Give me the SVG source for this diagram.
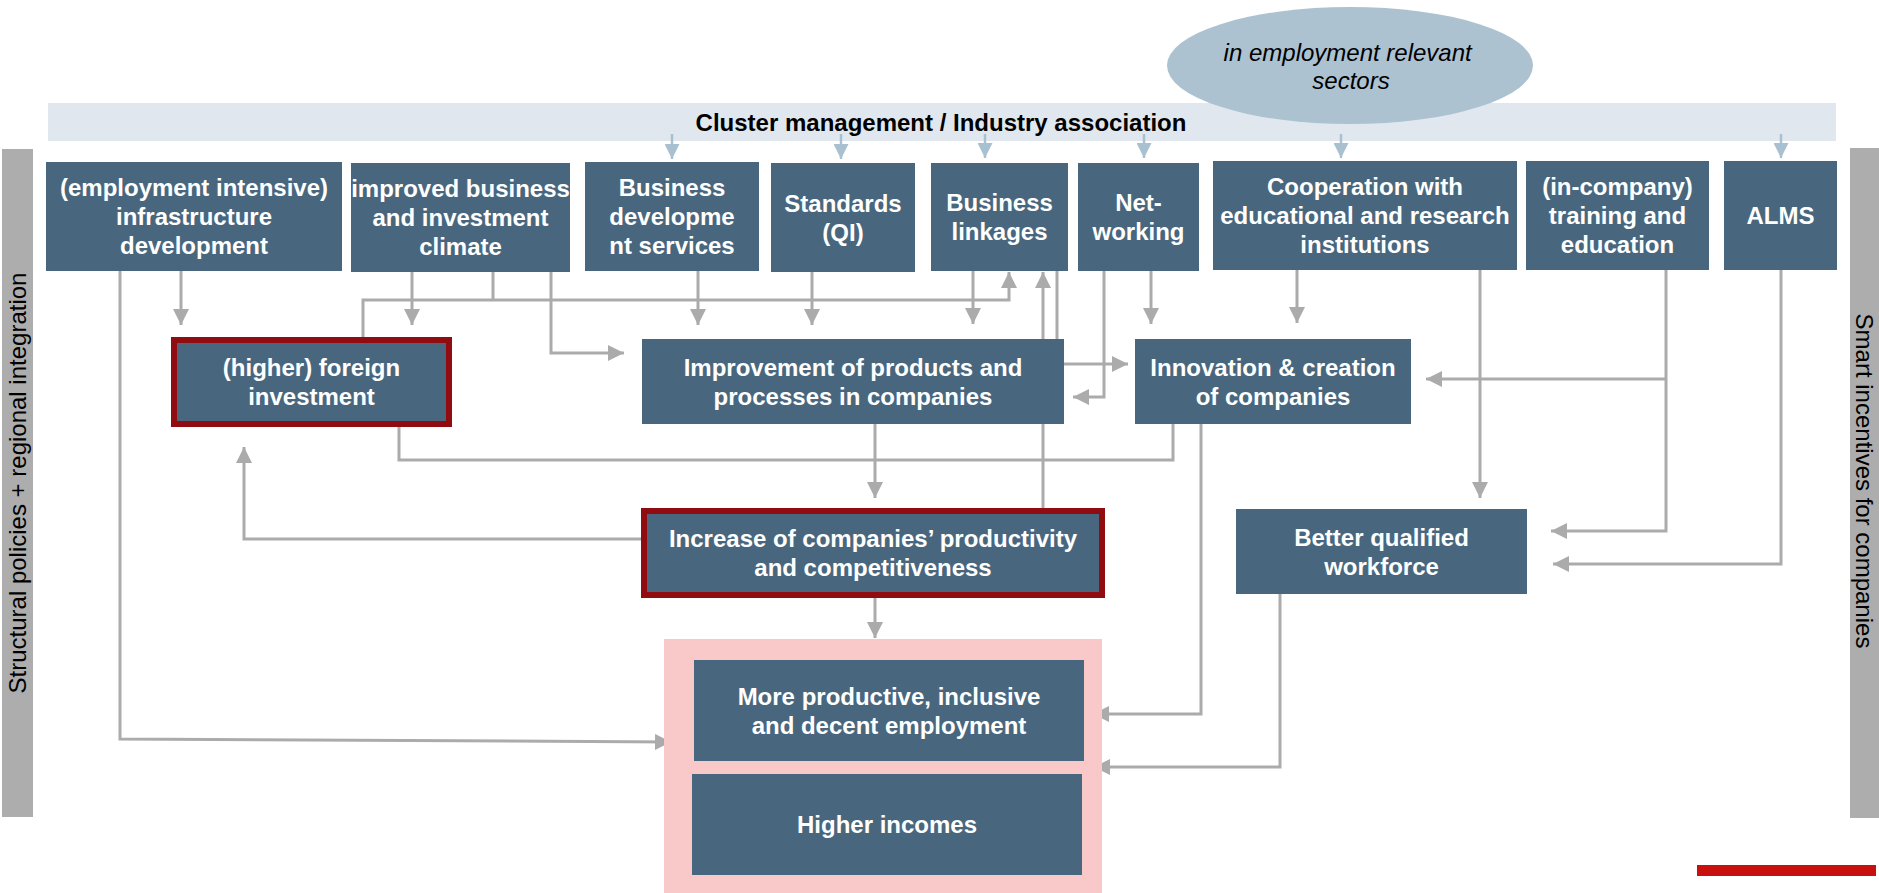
<svg xmlns="http://www.w3.org/2000/svg" width="1879" height="893" viewBox="0 0 1879 893">
  <defs>
    <style>
      .node { fill: #48677E; }
      .hl { fill: #48677E; stroke: #900C10; stroke-width: 6; }
      .lbl { font-family: "Liberation Sans", Arial, sans-serif; font-weight: bold; font-size: 24px; fill: #FFFFFF; text-anchor: middle; }
      .side { fill: #ADADAD; }
      .sidetxt { font-family: "Liberation Sans", Arial, sans-serif; font-size: 24px; fill: #000000; text-anchor: middle; }
      .con { fill: none; stroke: #ABABAB; stroke-width: 3; }
      .arr { marker-end: url(#ag); }
      .blue { fill: none; stroke: #A9C0D0; stroke-width: 2.5; marker-end: url(#ab); }
    </style>
    <marker id="ag" viewBox="0 0 16 16" refX="16" refY="8" markerWidth="16" markerHeight="16" markerUnits="userSpaceOnUse" orient="auto">
      <path d="M0,0 L16,8 L0,16 Z" fill="#ABABAB"/>
    </marker>
    <marker id="ab" viewBox="0 0 15 15" refX="15" refY="7.5" markerWidth="15" markerHeight="15" markerUnits="userSpaceOnUse" orient="auto">
      <path d="M0,0 L15,7.5 L0,15 Z" fill="#A9C0D0"/>
    </marker>
  </defs>

  <rect width="1879" height="893" fill="#FFFFFF"/>

  <!-- side bands -->
  <g id="side-left">
    <rect class="side" x="2" y="149" width="31" height="668"/>
    <text class="sidetxt" transform="translate(26,483) rotate(-90)">Structural policies + regional integration</text>
  </g>
  <g id="side-right">
    <rect class="side" x="1850" y="148" width="29" height="670"/>
    <text class="sidetxt" transform="translate(1856,481) rotate(90)">Smart incentives for companies</text>
  </g>

  <!-- cluster band and sector bubble -->
  <g id="cluster">
    <rect x="48" y="103" width="1788" height="38" fill="#E0E7EE"/>
    <text x="941" y="131" font-family="Liberation Sans, Arial, sans-serif" font-weight="bold" font-size="24" fill="#000000" text-anchor="middle">Cluster management / Industry association</text>
  </g>
  <g id="sectors">
    <ellipse cx="1350" cy="65.5" rx="183" ry="58.5" fill="#ADC2D1"/>
    <text font-family="Liberation Sans, Arial, sans-serif" font-style="italic" font-size="24" fill="#000000" text-anchor="middle">
      <tspan x="1351" y="61">in employment relevant</tspan>
      <tspan x="1351" y="89">sectors</tspan>
    </text>
  </g>

  <!-- connectors -->
  <g id="connectors">
    <g id="cluster-links">
      <path class="blue" d="M672,134 V159"/>
      <path class="blue" d="M841,134 V159"/>
      <path class="blue" d="M985,134 V158"/>
      <path class="blue" d="M1144,134 V158"/>
      <path class="blue" d="M1341,134 V158"/>
      <path class="blue" d="M1781,134 V158"/>
    </g>
    <path class="con arr" d="M181,271 V325"/>
    <path class="con arr" d="M120,271 V739 L671,742"/>
    <path class="con arr" d="M412,272 V325"/>
    <path class="con" d="M493,272 V300"/>
    <path class="con arr" d="M363,337 V300 H1009 V272"/>
    <path class="con arr" d="M551,272 V353 H624"/>
    <path class="con arr" d="M698,271 V325"/>
    <path class="con arr" d="M812,272 V325"/>
    <path class="con arr" d="M973,270 V324"/>
    <path class="con arr" d="M1043,508 V272"/>
    <path class="con arr" d="M1057,270 V364 H1128"/>
    <path class="con arr" d="M1104,270 V397 H1073"/>
    <path class="con arr" d="M1151,270 V324"/>
    <path class="con arr" d="M1297,270 V323"/>
    <path class="con arr" d="M1480,270 V498"/>
    <path class="con arr" d="M1666,270 V531 H1551"/>
    <path class="con arr" d="M1666,379 H1426"/>
    <path class="con arr" d="M1781,270 V564 H1553"/>
    <path class="con" d="M399,427 V460 H1173 V424"/>
    <path class="con arr" d="M875,424 V498"/>
    <path class="con arr" d="M641,539 H244 V447"/>
    <path class="con arr" d="M1201,424 V714 H1093"/>
    <path class="con arr" d="M1280,594 V767 H1094"/>
    <path class="con arr" d="M875,598 V638"/>
  </g>

  <!-- top row of instruments -->
  <g id="n-infra">
    <rect class="node" x="46" y="162" width="296" height="109"/>
    <text class="lbl"><tspan x="194" y="196.3">(employment intensive)</tspan><tspan x="194" y="225.1">infrastructure</tspan><tspan x="194" y="253.9">development</tspan></text>
  </g>
  <g id="n-climate">
    <rect class="node" x="351" y="163" width="219" height="109"/>
    <text class="lbl"><tspan x="460.5" y="197.3">improved business</tspan><tspan x="460.5" y="226.1">and investment</tspan><tspan x="460.5" y="254.9">climate</tspan></text>
  </g>
  <g id="n-bds">
    <rect class="node" x="585" y="162" width="174" height="109"/>
    <text class="lbl"><tspan x="672" y="196.3">Business</tspan><tspan x="672" y="225.1">developme</tspan><tspan x="672" y="253.9">nt services</tspan></text>
  </g>
  <g id="n-standards">
    <rect class="node" x="771" y="163" width="144" height="109"/>
    <text class="lbl"><tspan x="843" y="211.7">Standards</tspan><tspan x="843" y="240.5">(QI)</tspan></text>
  </g>
  <g id="n-linkages">
    <rect class="node" x="931" y="163" width="137" height="108"/>
    <text class="lbl"><tspan x="999.5" y="211.2">Business</tspan><tspan x="999.5" y="240">linkages</tspan></text>
  </g>
  <g id="n-networking">
    <rect class="node" x="1078" y="163" width="121" height="108"/>
    <text class="lbl"><tspan x="1138.5" y="211.2">Net-</tspan><tspan x="1138.5" y="240">working</tspan></text>
  </g>
  <g id="n-cooperation">
    <rect class="node" x="1213" y="161" width="304" height="109"/>
    <text class="lbl"><tspan x="1365" y="195.3">Cooperation with</tspan><tspan x="1365" y="224.1">educational and research</tspan><tspan x="1365" y="252.9">institutions</tspan></text>
  </g>
  <g id="n-training">
    <rect class="node" x="1526" y="161" width="183" height="109"/>
    <text class="lbl"><tspan x="1617.5" y="195.3">(in-company)</tspan><tspan x="1617.5" y="224.1">training and</tspan><tspan x="1617.5" y="252.9">education</tspan></text>
  </g>
  <g id="n-alms">
    <rect class="node" x="1724" y="161" width="113" height="109"/>
    <text class="lbl" x="1780.5" y="224.1">ALMS</text>
  </g>

  <!-- intermediate effects -->
  <g id="n-foreign">
    <rect class="hl" x="174" y="340" width="275" height="84"/>
    <text class="lbl"><tspan x="311.5" y="376.2">(higher) foreign</tspan><tspan x="311.5" y="405">investment</tspan></text>
  </g>
  <g id="n-improvement">
    <rect class="node" x="642" y="339" width="422" height="85"/>
    <text class="lbl"><tspan x="853" y="375.7">Improvement of products and</tspan><tspan x="853" y="404.5">processes in companies</tspan></text>
  </g>
  <g id="n-innovation">
    <rect class="node" x="1135" y="339" width="276" height="85"/>
    <text class="lbl"><tspan x="1273" y="375.7">Innovation &amp; creation</tspan><tspan x="1273" y="404.5">of companies</tspan></text>
  </g>
  <g id="n-productivity">
    <rect class="hl" x="644" y="511" width="458" height="84"/>
    <text class="lbl"><tspan x="873" y="547.2">Increase of companies’ productivity</tspan><tspan x="873" y="576">and competitiveness</tspan></text>
  </g>
  <g id="n-workforce">
    <rect class="node" x="1236" y="509" width="291" height="85"/>
    <text class="lbl"><tspan x="1381.5" y="545.7">Better qualified</tspan><tspan x="1381.5" y="574.5">workforce</tspan></text>
  </g>

  <!-- outcomes -->
  <g id="n-outcomes">
    <rect x="664" y="639" width="438" height="254" fill="#F9C8C8"/>
  </g>
  <g id="n-employment">
    <rect class="node" x="694" y="660" width="390" height="101"/>
    <text class="lbl"><tspan x="889" y="704.7">More productive, inclusive</tspan><tspan x="889" y="733.5">and decent employment</tspan></text>
  </g>
  <g id="n-incomes">
    <rect class="node" x="692" y="774" width="390" height="101"/>
    <text class="lbl" x="887" y="833.1">Higher incomes</text>
  </g>

  <!-- accent bar -->
  <rect x="1697" y="865" width="179" height="11" fill="#C8100F"/>
</svg>
